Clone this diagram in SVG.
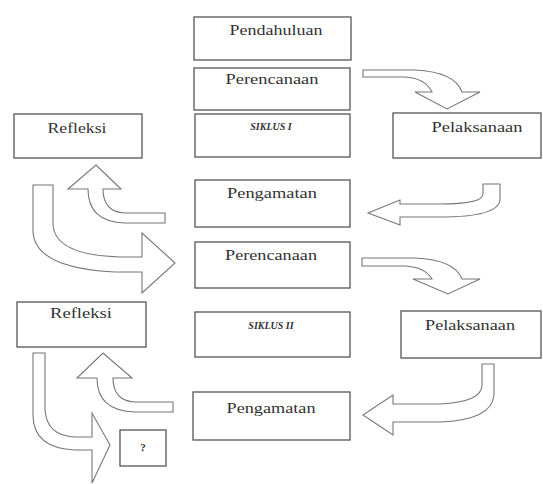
<svg xmlns="http://www.w3.org/2000/svg" width="543" height="484" viewBox="0 0 543 484">
<style>
.box{fill:#fff;stroke:#555;stroke-width:1.3}
.t{font-family:'Liberation Serif','DejaVu Serif','Times New Roman',serif;font-size:15px;fill:#333;text-anchor:middle}
.s{font-family:'Liberation Serif','DejaVu Serif','Times New Roman',serif;font-size:10px;font-style:italic;font-weight:bold;fill:#333;text-anchor:middle}
.q{font-family:'Liberation Serif','DejaVu Serif','Times New Roman',serif;font-size:11px;font-weight:bold;fill:#333;text-anchor:middle}
.arr{fill:#fff;stroke:#777;stroke-width:1.1;stroke-linejoin:miter}
</style>
<rect width="543" height="484" fill="#fff"/>
<g id="connectors">
<path class="arr" d="M 363 70 L 415 70 Q 455 72 462 92 L 480 92 L 447 109 L 415 92 L 432 92 Q 425 78 405 77 L 363 77 Z"/>
<path class="arr" d="M 483 184 L 500 184 L 500 200 Q 498 217 440 217 L 400 217 L 400 225 L 368 213 L 400 200 L 400 204 L 440 204 Q 483 204 483 194 Z"/>
<path class="arr" d="M 165 213 L 125 213 Q 103 212 103 189 L 121 189 L 96 165 L 68 189 L 88 189 Q 88 222 125 223 L 165 223 Z"/>
<path class="arr" d="M 33 185 L 53 185 L 53 225 Q 55 255 120 257 L 142 257 L 142 233 L 175 263 L 142 293 L 142 272 L 115 272 Q 33 268 33 230 Z"/>
<path class="arr" d="M 362 258 L 415 258 Q 455 260 462 279 L 480 279 L 448 294 L 413 279 L 432 279 Q 425 267 405 266 L 362 266 Z"/>
<path class="arr" d="M 482 364 L 494 364 L 494 395 Q 492 420 440 422 L 393 422 L 393 435 L 363 415 L 393 395 L 393 404 L 440 404 Q 482 402 482 385 Z"/>
<path class="arr" d="M 173 402 L 135 402 Q 113 401 113 378 L 132 378 L 103 353 L 77 378 L 97 378 Q 97 411 135 412 L 173 412 Z"/>
<path class="arr" d="M 33 353 L 45 353 L 45 410 Q 47 436 75 437 L 92 437 L 92 413 L 110 445 L 92 483 L 92 450 L 75 450 Q 33 448 33 415 Z"/>
</g>
<g id="pendahuluan"><rect class="box" x="194" y="17" width="157" height="43"/><text class="t" x="276" y="35" textLength="93" lengthAdjust="spacingAndGlyphs">Pendahuluan</text></g>
<g id="perencanaan1"><rect class="box" x="194" y="68" width="156" height="42"/><text class="t" x="272" y="84" textLength="93" lengthAdjust="spacingAndGlyphs">Perencanaan</text></g>
<g id="siklus1"><rect class="box" x="195" y="114" width="155" height="43"/><text class="s" x="271" y="130">SIKLUS I</text></g>
<g id="refleksi1"><rect class="box" x="14" y="114" width="128" height="44"/><text class="t" x="77" y="133" textLength="59" lengthAdjust="spacingAndGlyphs">Refleksi</text></g>
<g id="pelaksanaan1"><rect class="box" x="393" y="113" width="148" height="45"/><text class="t" x="477" y="132" textLength="91" lengthAdjust="spacingAndGlyphs">Pelaksanaan</text></g>
<g id="pengamatan1"><rect class="box" x="195" y="180" width="155" height="47"/><text class="t" x="272" y="198" textLength="90" lengthAdjust="spacingAndGlyphs">Pengamatan</text></g>
<g id="perencanaan2"><rect class="box" x="195" y="242" width="155" height="46"/><text class="t" x="271" y="260" textLength="92" lengthAdjust="spacingAndGlyphs">Perencanaan</text></g>
<g id="siklus2"><rect class="box" x="195" y="312" width="155" height="45"/><text class="s" x="271" y="329">SIKLUS II</text></g>
<g id="refleksi2"><rect class="box" x="17" y="302" width="129" height="45"/><text class="t" x="81" y="318" textLength="62" lengthAdjust="spacingAndGlyphs">Refleksi</text></g>
<g id="pelaksanaan2"><rect class="box" x="401" y="311" width="140" height="47"/><text class="t" x="470" y="330" textLength="90" lengthAdjust="spacingAndGlyphs">Pelaksanaan</text></g>
<g id="pengamatan2"><rect class="box" x="193" y="392" width="157" height="48"/><text class="t" x="271" y="413" textLength="89" lengthAdjust="spacingAndGlyphs">Pengamatan</text></g>
<g id="question"><rect class="box" x="120" y="430" width="46" height="36"/><text class="q" x="143" y="451">?</text></g>
</svg>
